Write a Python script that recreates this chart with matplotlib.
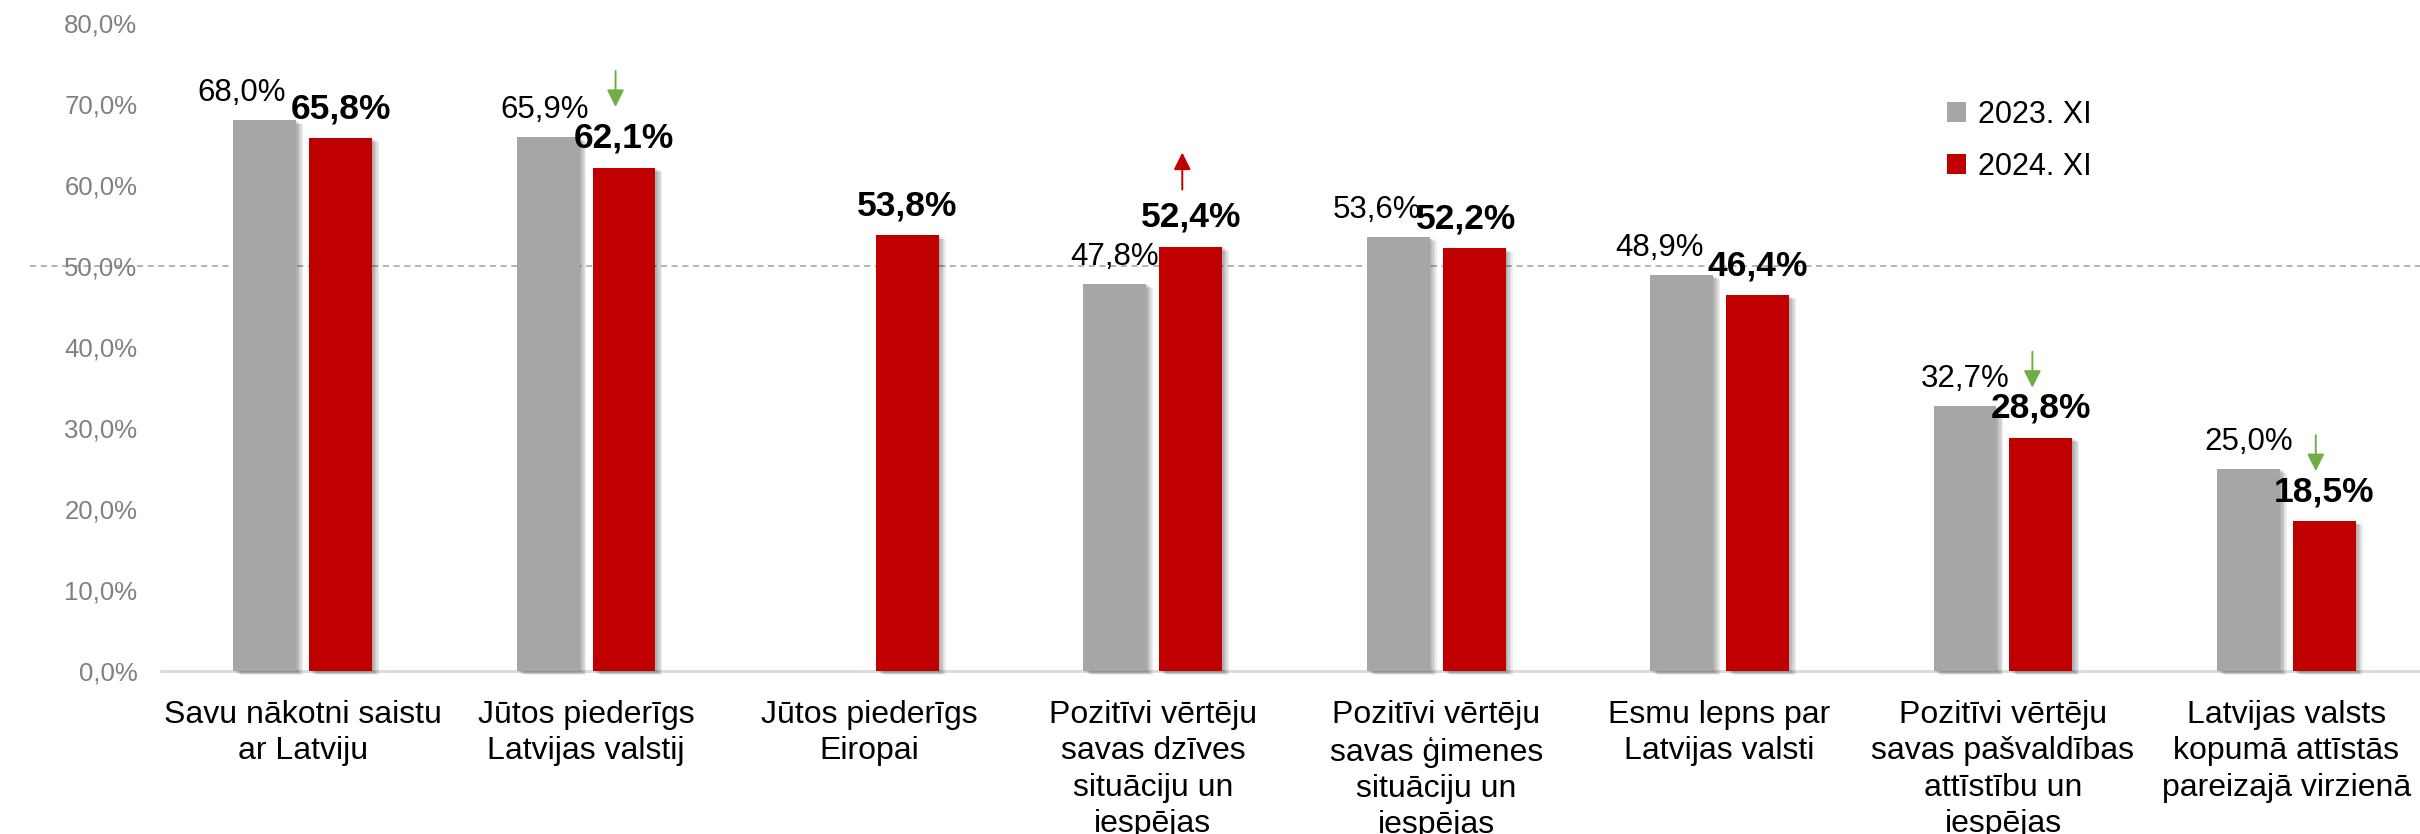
import numpy as np
import matplotlib
matplotlib.use("Agg")
import matplotlib.pyplot as plt
import matplotlib.patheffects as pe
from matplotlib.lines import Line2D
from matplotlib.transforms import offset_copy

plt.rcParams['font.family'] = ['Liberation Sans', 'DejaVu Sans']

categories = [
    "Savu nākotni saistu\nar Latviju",
    "Jūtos piederīgs\nLatvijas valstij",
    "Jūtos piederīgs\nEiropai",
    "Pozitīvi vērtēju\nsavas dzīves\nsituāciju un\niespējas",
    "Pozitīvi vērtēju\nsavas ģimenes\nsituāciju un\niespējas",
    "Esmu lepns par\nLatvijas valsti",
    "Pozitīvi vērtēju\nsavas pašvaldības\nattīstību un\niespējas",
    "Latvijas valsts\nkopumā attīstās\npareizajā virzienā",
]
series_names = ["2023. XI", "2024. XI"]
values_2023 = [68.0, 65.9, np.nan, 47.8, 53.6, 48.9, 32.7, 25.0]
values_2024 = [65.8, 62.1, 53.8, 52.4, 52.2, 46.4, 28.8, 18.5]
# change markers: (category index, direction)
change_idx = [1, 3, 6, 7]
change_dir = ["down", "up", "down", "down"]
y_ticks = [0, 10, 20, 30, 40, 50, 60, 70, 80]

GRAY = "#A6A6A6"
RED = "#C00000"
GREEN = "#70AD47"

W, H = 2420, 834
fig = plt.figure(figsize=(W / 100, H / 100), dpi=100)
ax = fig.add_axes([161 / W, 163 / H, 2267 / W, 648 / H])

x = np.arange(len(categories))
bw = 0.222
off = 0.134

shadow = [pe.SimplePatchShadow(offset=(k, -0.6 * k), shadow_rgbFace="black", alpha=0.07)
          for k in (1, 2, 3, 4, 5)] + [pe.Normal()]

b1 = ax.bar(x - off, values_2023, bw, color=GRAY, label=series_names[0], zorder=3)
b2 = ax.bar(x + off, values_2024, bw, color=RED, label=series_names[1], zorder=3)
for b in list(b1) + list(b2):
    b.set_path_effects(shadow)
    b.set_clip_on(False)

ax.set_xlim(-0.5, len(categories) - 0.5)
ax.set_ylim(0, 80)

# 50% dashed reference line (extends under the tick labels)
ax.add_line(Line2D([-0.058, 1.0], [50, 50], transform=ax.get_yaxis_transform(),
                   color="#A0A0A0", lw=1.1, ls=(0, (4, 3)), clip_on=False, zorder=1))

# value labels
px = 0.72  # points per pixel at dpi 100
shift23 = [-23, -3, 0, 0, -21, -22, 0, 0]
shift24 = [0, 0, 0, 0, -8, 0, 0, 0]
for i in range(len(categories)):
    v = values_2023[i]
    if not np.isnan(v):
        ax.annotate(f"{v:.1f}%".replace(".", ","), xy=(x[i] - off, v),
                    xytext=(shift23[i] * px, 19 * px), textcoords="offset points",
                    ha="center", va="baseline", fontsize=22.5, color="black",
                    annotation_clip=False, zorder=5)
    v = values_2024[i]
    ax.annotate(f"{v:.1f}%".replace(".", ","), xy=(x[i] + off, v),
                xytext=(shift24[i] * px, 20 * px), textcoords="offset points",
                ha="center", va="baseline", fontsize=25.5, fontweight="bold",
                color="black", annotation_clip=False, zorder=5)

# change arrows (drawn just above the 2024 labels)
for i, d in zip(change_idx, change_dir):
    v = values_2024[i]
    lift = 11 if i == 1 else 0
    xa = x[i] + off - 0.03
    if d == "down":
        tail_dy, tip_dy, col = (86 + lift) * px, (50 + lift) * px, GREEN
    else:
        tail_dy, tip_dy, col = 57 * px, 94 * px, RED
    p_tail = offset_copy(ax.transData, fig=fig, x=0, y=tail_dy, units="points").transform((xa, v))
    p_tip = offset_copy(ax.transData, fig=fig, x=0, y=tip_dy, units="points").transform((xa, v))
    ax.annotate("", xy=p_tip, xytext=p_tail, xycoords="figure pixels",
                textcoords="figure pixels",
                arrowprops=dict(arrowstyle="-|>", color=col, lw=1.4,
                                mutation_scale=26, shrinkA=0, shrinkB=0),
                annotation_clip=False, zorder=6)

# axes styling
for s in ("top", "right", "left"):
    ax.spines[s].set_visible(False)
ax.spines["bottom"].set_color("#D9D9D9")
ax.spines["bottom"].set_linewidth(2)
ax.spines["bottom"].set_zorder(2)
ax.set_yticks(y_ticks)
ax.set_yticklabels([f"{t:.1f}%".replace(".", ",") for t in y_ticks])
ax.tick_params(axis="y", length=0, pad=17, labelsize=18.5, labelcolor="#808080")
ax.set_xticks(x)
ax.set_xticklabels(categories, fontsize=23, color="black", linespacing=1.27)
ax.tick_params(axis="x", length=0, pad=21)

leg = ax.legend(loc="center left", bbox_to_anchor=(1947 / W, 1 - 141 / H),
                bbox_transform=fig.transFigure, frameon=False, fontsize=22,
                handlelength=0.62, handleheight=0.62, handletextpad=0.38,
                labelspacing=0.72, borderpad=0, borderaxespad=0)
for h in leg.legend_handles:
    h.set_path_effects([])

fig.savefig("out.png", dpi=100, facecolor="white")
